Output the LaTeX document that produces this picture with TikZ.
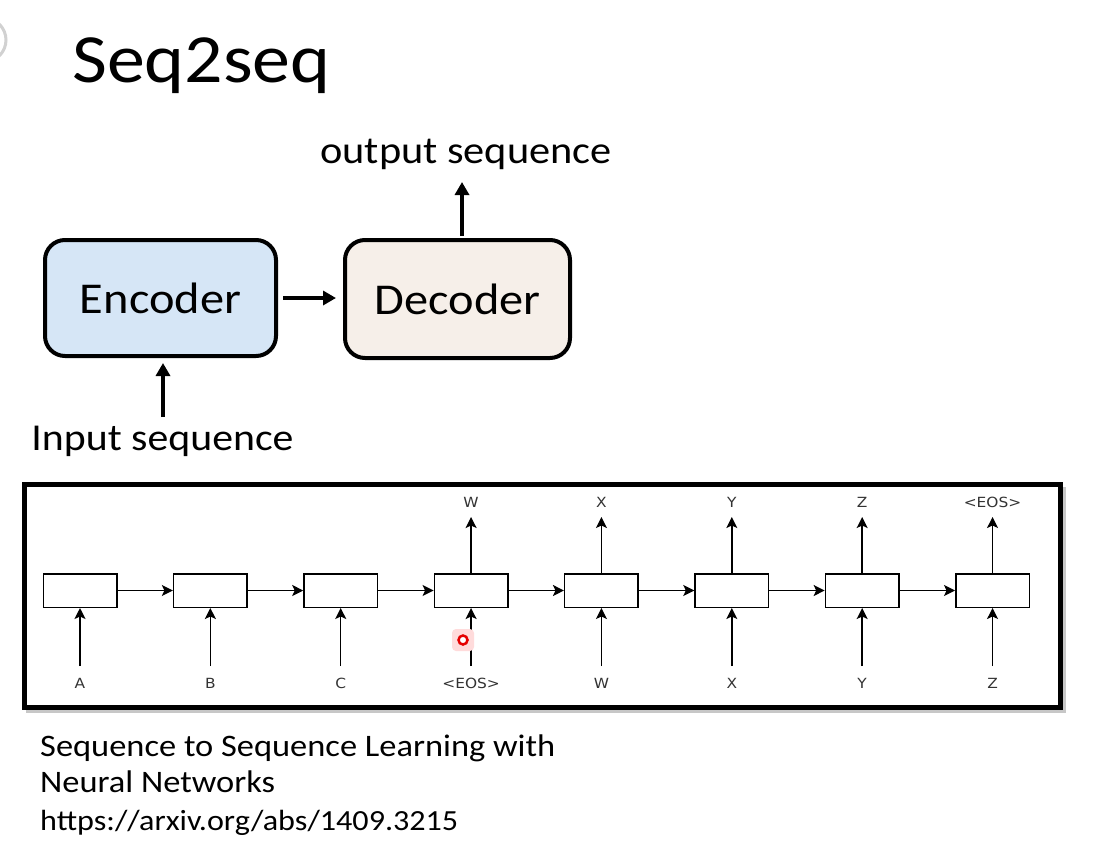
\documentclass[tikz,border=0pt]{standalone}
\usepackage{fontspec}
\setmainfont{Carlito}
\newfontfamily\dvs{DejaVu Sans}
\usetikzlibrary{arrows.meta}
\newcommand\hst[1]{\scalebox{1.1}[1]{#1}}
\newcommand\fsz[1]{\fontsize{#1}{#1}\selectfont}
\definecolor{encblue}{HTML}{D6E6F6}
\definecolor{decbeige}{HTML}{F6EFE9}
\tikzset{
  bigbox/.style={draw, line width=4pt, rounded corners=20pt, inner sep=0pt},
  bigarrow/.style={line width=4pt, -{Triangle[length=13pt,width=14pt]}},
  cell/.style={draw, line width=1.5pt, minimum width=73.5pt, minimum height=33.5pt, inner sep=0pt},
  thinarrow/.style={line width=1.5pt, -{Stealth[length=11pt,width=11pt,inset=2.5pt]}},
  small/.style={font=\dvs\fsz{14}, text=black!80, inner sep=0pt},
  txt/.style={inner sep=0pt},
}
\begin{document}
\begin{tikzpicture}[x=1pt,y=-1pt]
\fill[white] (0,0) rectangle (1097,855);
\useasboundingbox (0,0) rectangle (1097,855);
% slide artifact at left edge
\begin{scope}
\clip (0,0) rectangle (20,80);
\draw[black!18, line width=3pt] (-16,40) circle (22pt);
\end{scope}
% title
\node[txt, anchor=base west] (title) at (72,82) {\fsz{69}\hst{Seq2seq}};
% encoder / decoder
\node[bigbox, fill=encblue, minimum width=231pt, minimum height=116pt] (enc) at (160.5,298) {\hst{\fsz{44}Encoder}};
\node[bigbox, fill=decbeige, minimum width=225pt, minimum height=118pt] (dec) at (457.5,299) {\hst{\fsz{44}Decoder}};
\draw[bigarrow] ([xshift=5pt]enc.east) -- ([xshift=-7pt]enc.east -| dec.west);
\coordinate (outtip) at (462,182);
\draw[bigarrow] ([xshift=4.5pt,yshift=2pt]dec.north) -- (outtip);
\node[txt, anchor=base] (outlbl) at (466,163) {\fsz{38.5}\hst{output sequence}};
\coordinate (inbot) at (163,417);
\draw[bigarrow] (inbot) -- ([xshift=2.5pt,yshift=-5pt]enc.south);
\node[txt, anchor=base] (inlbl) at (162.5,450) {\fsz{38}\hst{Input sequence}};
% lower frame
\draw[black!22, line width=4pt] (28,489) rectangle (1064,711);
\draw[line width=5pt, fill=white] (24.5,484.5) rectangle (1060.5,707.5);
% cells
\foreach \i in {1,...,8} {
  \pgfmathsetmacro\xx{80+130.36*(\i-1)}
  \node[cell] (c\i) at (\xx,590.5) {};
  \coordinate (in\i) at (\xx,666);
  \coordinate (out\i) at (\xx,517);
}
\foreach \i/\j in {1/2,2/3,3/4,4/5,5/6,6/7,7/8} {
  \draw[thinarrow] (c\i.east) -- (c\j.west);
}
\foreach \i/\t in {1/A,2/B,3/C,4/{<EOS>},5/W,6/X,7/Y,8/Z} {
  \draw[thinarrow] (in\i) -- (c\i.south);
  \node[small] (il\i) at ([yshift=-17pt]in\i) {\hst{\t}};
}
\foreach \i/\t in {4/W,5/X,6/Y,7/Z,8/{<EOS>}} {
  \draw[thinarrow] (c\i.north) -- (out\i);
  \node[small] (ol\i) at ([yshift=15pt]out\i) {\hst{\t}};
}
% cursor mark
\fill[red!14, rounded corners=4pt] (452,629) rectangle (474,651);
\draw[red!90!black, line width=2.5pt, fill=white] (463,640) circle (4.5pt);
% caption
\node[txt, anchor=base west] (cap1) at (40,756) {\fsz{31.3}\hst{Sequence to Sequence Learning with}};
\node[txt, anchor=base west] (cap2) at (40,792) {\fsz{31.3}\hst{Neural Networks}};
\node[txt, anchor=base west] (url) at (40,830) {\fsz{29.2}\hst{https://arxiv.org/abs/1409.3215}};
\end{tikzpicture}
\end{document}
